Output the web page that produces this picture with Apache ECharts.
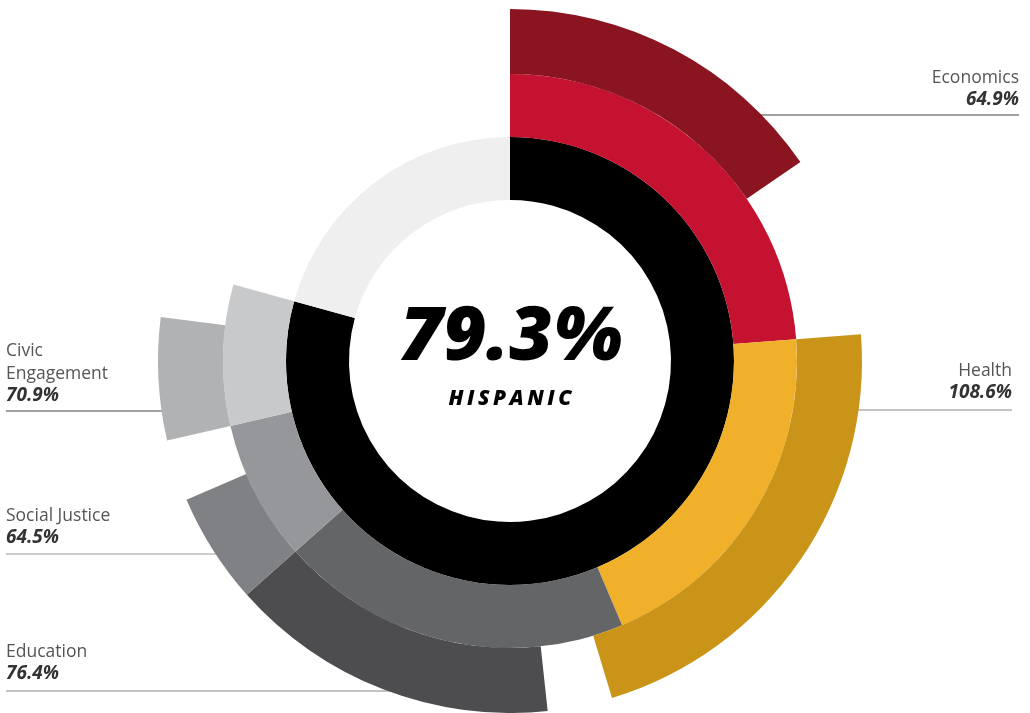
<!DOCTYPE html>
<html>
<head>
<meta charset="utf-8">
<script src="https://cdn.jsdelivr.net/npm/echarts@6/dist/echarts.min.js"></script>
<style>html,body{margin:0;padding:0;background:#fff;}#c{width:1030px;height:713px;}</style>
</head>
<body>
<div id="c"></div>
<script>
// ---- data ----
const categories = ['Economics', 'Health', 'Education', 'Social Justice', 'Civic Engagement'];
const labelTexts = ['Economics', 'Health', 'Education', 'Social Justice', 'Civic\nEngagement'];
const values = [64.9, 108.6, 76.4, 64.5, 70.9];
const weights = [30, 25, 25, 10, 10];
const overall = 79.3;
const groupName = 'HISPANIC';
const outerAlign = ['start', 'start', 'end', 'start', 'start'];

// ---- styles ----
const innerColors = ['#c41230', '#f0b02a', '#646567', '#96979a', '#c8c9cb'];
const outerColors = ['#8b1421', '#c99418', '#4d4d4f', '#808184', '#b0b2b4'];
const C = [510, 361];
const R = [161, 224, 287, 352];

const total = overall / 100 * 360;
const innerSpans = weights.map(w => w / 100 * total);
const starts = [];
let acc = 0;
innerSpans.forEach(s => { starts.push(acc); acc += s; });

// ring 1
const ring1 = [
  { value: total, itemStyle: { color: '#000' } },
  { value: 360 - total, itemStyle: { color: '#efefef' } }
];
// ring 2
const ring2 = innerSpans.map((s, i) => ({ name: categories[i], value: s, itemStyle: { color: innerColors[i] } }));
ring2.push({ value: 360 - total, itemStyle: { color: 'rgba(0,0,0,0)' } });
// ring 3
const segs = values.map((v, i) => {
  const span = innerSpans[i] * v / 100;
  const st = outerAlign[i] === 'start' ? starts[i] : starts[i] + innerSpans[i] - span;
  return { st: st, en: st + span, i: i };
}).sort((a, b) => a.st - b.st);
const ring3 = [];
let cur = 0;
segs.forEach(s => {
  if (s.st > cur) ring3.push({ value: s.st - cur, itemStyle: { color: 'rgba(0,0,0,0)' } });
  ring3.push({ name: categories[s.i], value: s.en - s.st, itemStyle: { color: outerColors[s.i] } });
  cur = s.en;
});
if (cur < 360) ring3.push({ value: 360 - cur, itemStyle: { color: 'rgba(0,0,0,0)' } });

function pie(radius, data) {
  return {
    type: 'pie', center: C, radius: radius, startAngle: 90, clockwise: true,
    silent: true, animation: false, label: { show: false }, labelLine: { show: false },
    emphasis: { disabled: true }, itemStyle: { borderWidth: 0 }, data: data, z: 2
  };
}

// label layout
const FONT = '"Open Sans", "Noto Sans", sans-serif';
const labelPos = [
  { x: 1019, y: 76, align: 'right', line: [700, 1019, 115], stroke: '#444' },
  { x: 1012, y: 369, align: 'right', line: [800, 1012, 410], stroke: '#888' },
  { x: 6, y: 650, align: 'left', line: [6, 450, 691], stroke: '#888' },
  { x: 6, y: 514, align: 'left', line: [6, 260, 554], stroke: '#999' },
  { x: 6, y: 349, align: 'left', line: [6, 200, 411], stroke: '#444' }
];
const graphics = [];
labelPos.forEach((p, i) => {
  const lines = labelTexts[i].split('\n').length;
  graphics.push({ type: 'line', z: 0, silent: true,
    shape: { x1: p.line[0], y1: p.line[2], x2: p.line[1], y2: p.line[2] },
    style: { stroke: p.stroke, lineWidth: 1.2 } });
  graphics.push({ type: 'text', z: 10, silent: true, x: p.x, y: p.y - 9,
    style: { text: labelTexts[i], fill: '#555', font: '400 17.5px ' + FONT, align: p.align, verticalAlign: 'top', lineHeight: 23 } });
  graphics.push({ type: 'text', z: 10, silent: true, x: p.x, y: p.y - 9 + 23 * lines,
    style: { text: values[i].toFixed(1) + '%', fill: '#333', font: 'italic 700 19px ' + FONT, align: p.align, verticalAlign: 'top' } });
});
graphics.push({ type: 'text', z: 10, silent: true, x: 511, y: 339,
  style: { text: overall.toFixed(1) + '%', fill: '#000', font: 'italic 800 75px ' + FONT, align: 'center', verticalAlign: 'middle' } });
graphics.push({ type: 'text', z: 10, silent: true, x: 510, y: 399,
  style: { text: groupName.split('').join('\u2009'), fill: '#000', font: 'italic 800 21px ' + FONT, align: 'center', verticalAlign: 'middle' } });

const chart = echarts.init(document.getElementById('c'));
chart.setOption({
  animation: false,
  series: [pie([R[0], R[1]], ring1), pie([R[1], R[2]], ring2), pie([R[2], R[3]], ring3)],
  graphic: graphics
});
</script>
</body>
</html>
